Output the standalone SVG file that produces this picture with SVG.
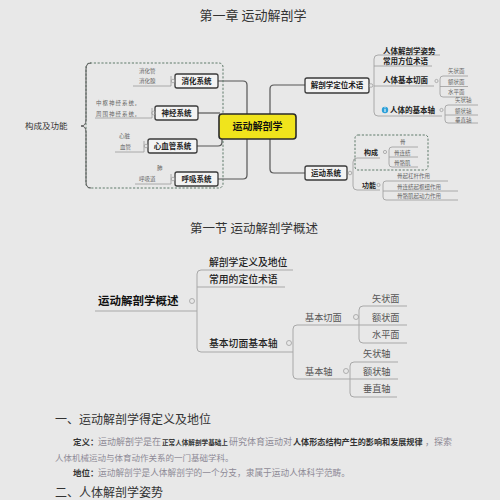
<svg xmlns="http://www.w3.org/2000/svg" width="500" height="500" viewBox="0 0 500 500">
<style>
text{font-family:"Noto Sans CJK SC","Noto Sans",sans-serif;}
.t1{font-size:13px;fill:#333;text-anchor:middle;}
.box{fill:#f3f3f3;stroke:#3a3a3a;stroke-width:1.3;}
.bt{font-size:7.5px;font-weight:bold;fill:#222;text-anchor:middle;}
.sm{font-size:5.5px;fill:#666;}
.m7{font-size:7.5px;font-weight:bold;fill:#222;}
.con{fill:none;stroke:#555;stroke-width:1.2;}
.ul{fill:none;stroke:#9a9a9a;stroke-width:0.8;}
.ul2{fill:none;stroke:#a8a8a8;stroke-width:1;}
.tog{fill:none;stroke:#a0a0a0;stroke-width:0.8;}
.dash{fill:none;stroke:#5f7a6a;stroke-width:1;stroke-dasharray:2.2 1.6;}
.b1{font-size:9.8px;fill:#222;font-weight:500;}
.g9{font-size:9.2px;fill:#555;}
.h{font-size:12px;fill:#333;}
.gr{fill:#8e8a96;}
.bd{fill:#333;font-weight:bold;}
</style>
<rect x="0" y="0" width="500" height="500" fill="#e8e8e8"/>
<text class="t1" x="253" y="20">第一章 运动解剖学</text>

<!-- connectors -->
<g id="connectors">
<path class="con" d="M218,81 H243 Q247,81 247,85 V114"/>
<path class="con" d="M198,113 H220"/>
<path class="con" d="M197,146 H218 Q222,146 222,142 V139"/>
<path class="con" d="M218,179 H243 Q247,179 247,175 V139"/>
<path class="con" d="M270,114 V89 Q270,85 274,85 H305"/>
<path class="con" d="M270,139 V169 Q270,173 274,173 H305"/>
<!-- left children -->
<path class="ul" d="M133,86 H171 V76"/>
<path class="ul" d="M95,118 H152 V108"/>
<path class="ul" d="M115,152 H144 V141"/>
<path class="ul" d="M135,184 H171 V174"/>
<!-- right children -->
<path class="ul" d="M440,55 H378 Q374,55 374,59 V112 Q374,116 378,116 H442"/>
<path class="ul" d="M374,66 H432"/>
<path class="ul" d="M374,86 H434"/>
<path class="ul" d="M468,76 H443 Q440,76 440,79 V94 Q440,97 443,97 H468"/>
<path class="ul" d="M440,86.5 H468"/>
<path class="ul" d="M478,105 H448 Q445,105 445,108 V120 Q445,123 448,123 H478"/>
<path class="ul" d="M445,115 H478"/>
<path class="ul" d="M380,158 H357 Q353,158 353,162 V186 Q353,190 357,190 H380"/>
<path class="ul" d="M418,147 H392 Q389,147 389,150 V164 Q389,167 392,167 H418"/>
<path class="ul" d="M389,157 H418"/>
<path class="ul" d="M448,181 H386 Q383,181 383,184 V197 Q383,200 386,200 H458"/>
<path class="ul" d="M383,191 H458"/>
<!-- lower map -->
<path class="ul2" d="M95,311 H197"/>
<path class="ul2" d="M293,270 H201 Q197,270 197,274 V348 Q197,352 201,352 H293"/>
<path class="ul2" d="M197,287 H285"/>
<path class="ul2" d="M352,325 H297 Q293,325 293,329 V375 Q293,379 297,379 H350"/>
<path class="ul2" d="M407,306 H363 Q359,306 359,310 V339 Q359,343 363,343 H407"/>
<path class="ul2" d="M352,325 H407"/>
<path class="ul2" d="M398,362 H354 Q350,362 350,366 V393 Q350,397 354,397 H397"/>
<path class="ul2" d="M350,379 H398"/>
</g>

<!-- top map nodes -->
<g id="group-left">
<rect class="dash" x="86" y="63" width="137" height="125" rx="4"/>
<path fill="none" stroke="#555" stroke-width="1" d="M91,63 Q86,63 86,69 V120 Q86,126 81,126 Q86,126 86,132 V182 Q86,188 91,188"/>
<text x="25" y="129" style="font-size:8.5px;fill:#333;">构成及功能</text>
</g>
<g id="center">
<rect x="219" y="114" width="77" height="25" rx="3" fill="#f0e41c" stroke="#2a2a2a" stroke-width="1.6"/>
<text x="257.5" y="130.3" text-anchor="middle" style="font-size:10px;font-weight:bold;fill:#111;">运动解剖学</text>
</g>
<g id="n-xiaohua">
<rect class="box" x="175" y="74" width="43" height="14" rx="2"/>
<text class="bt" x="196.5" y="83.9">消化系统</text>
<circle class="tog" cx="173" cy="81" r="1.8"/>
<text class="sm" x="139" y="73">消化管</text>
<text class="sm" x="139" y="83">消化腺</text>
</g>
<g id="n-shenjing">
<rect class="box" x="155" y="106" width="43" height="14" rx="2"/>
<text class="bt" x="176.5" y="115.9">神经系统</text>
<circle class="tog" cx="153.5" cy="113" r="1.8"/>
<text class="sm" x="96" y="105" letter-spacing="1">中枢神经系统,</text>
<text class="sm" x="96" y="116" letter-spacing="1">周围神经系统,</text>
</g>
<g id="n-xinxueguan">
<rect class="box" x="148" y="139" width="49" height="14" rx="2"/>
<text class="bt" x="172.5" y="148.9">心血管系统</text>
<circle class="tog" cx="146" cy="146" r="1.8"/>
<text class="sm" x="119" y="138">心脏</text>
<text class="sm" x="120" y="149">血管</text>
</g>
<g id="n-huxi">
<rect class="box" x="175" y="172" width="43" height="14" rx="2"/>
<text class="bt" x="196.5" y="181.9">呼吸系统</text>
<circle class="tog" cx="173" cy="179" r="1.8"/>
<text class="sm" x="157" y="170">肺</text>
<text class="sm" x="139" y="181">呼吸道</text>
</g>
<g id="n-dingwei">
<rect class="box" x="305" y="78" width="64" height="15" rx="2"/>
<text class="bt" x="337" y="88.4">解剖学定位术语</text>
<circle class="tog" cx="371" cy="85.5" r="1.8"/>
<text class="m7" x="383" y="53.8">人体解剖学姿势</text>
<text class="m7" x="383" y="64">常用方位术语</text>
<text class="m7" x="383" y="83">人体基本切面</text>
<circle class="tog" cx="436.5" cy="81" r="1.6"/>
<text class="sm" x="448" y="73">矢状面</text>
<text class="sm" x="448" y="84">额状面</text>
<text class="sm" x="448" y="94">水平面</text>
<circle cx="385" cy="110" r="3.2" fill="#2b9fd8"/>
<rect x="384.5" y="109" width="1" height="3" fill="#fff"/>
<rect x="384.5" y="107.3" width="1" height="1" fill="#fff"/>
<text class="m7" x="390" y="112.8">人体的基本轴</text>
<circle class="tog" cx="441.5" cy="110" r="1.6"/>
<text class="sm" x="455" y="102">矢状轴</text>
<text class="sm" x="455" y="113">额状轴</text>
<text class="sm" x="455" y="121.5">垂直轴</text>
</g>
<g id="n-yundong">
<rect class="box" x="305" y="166" width="42" height="14" rx="2"/>
<text class="bt" x="326" y="175.9">运动系统</text>
<circle class="tog" cx="350" cy="173" r="1.8"/>
<rect class="dash" x="355" y="135" width="73" height="35" rx="3"/>
<text x="364" y="154.7" style="font-size:7px;font-weight:bold;fill:#222;">构成</text>
<circle class="tog" cx="385" cy="152" r="1.6"/>
<text class="sm" x="400" y="144">骨</text>
<text class="sm" x="394" y="154.5">骨连结</text>
<text class="sm" x="394" y="164.5">骨骼肌</text>
<text x="362" y="187.7" style="font-size:7px;font-weight:bold;fill:#222;">功能</text>
<circle class="tog" cx="378.5" cy="185" r="1.6"/>
<text class="sm" x="397" y="178">骨起杠杆作用</text>
<text class="sm" x="397" y="189">骨连结起枢纽作用</text>
<text class="sm" x="397" y="198">骨骼肌起动力作用</text>
</g>

<!-- lower map -->
<text class="t1" x="254" y="232.8" style="font-size:12.5px;">第一节 运动解剖学概述</text>
<g id="n-gaishu">
<text x="98" y="304.9" style="font-size:11.5px;font-weight:bold;fill:#111;">运动解剖学概述</text>
<circle class="tog" cx="192" cy="301" r="2.5"/>
</g>
<g id="n-dingyi"><text class="b1" x="209" y="265.7">解剖学定义及地位</text></g>
<g id="n-shuyu"><text class="b1" x="209" y="282.7">常用的定位术语</text></g>
<g id="n-qiemianzhou">
<text class="b1" x="209" y="346.7">基本切面基本轴</text>
<circle class="tog" cx="289" cy="343" r="2.5"/>
</g>
<g id="n-qiemian">
<text class="g9" x="305" y="320.5">基本切面</text>
<circle class="tog" cx="356" cy="317" r="2.5"/>
<text class="g9" x="372" y="301.5">矢状面</text>
<text class="g9" x="372" y="320.5">额状面</text>
<text class="g9" x="372" y="337.5">水平面</text>
</g>
<g id="n-zhou">
<text class="g9" x="305" y="374.5">基本轴</text>
<circle class="tog" cx="346" cy="371" r="2.5"/>
<text class="g9" x="363" y="356.5">矢状轴</text>
<text class="g9" x="363" y="374.5">额状轴</text>
<text class="g9" x="363" y="391.5">垂直轴</text>
</g>

<!-- text section -->
<text class="h" x="55" y="423.5">一、运动解剖学得定义及地位</text>
<text x="73" y="445" class="bd" style="font-size:8.5px;">定义：</text>
<text x="98" y="445" class="gr" style="font-size:9px;">运动解剖学是在</text>
<text x="162" y="445" class="bd" style="font-size:6.6px;">正常人体解剖学基础上</text>
<text x="229" y="445" class="gr" style="font-size:9px;">研究体育运动对</text>
<text x="293" y="445" class="bd" style="font-size:8.1px;">人体形态结构产生的影响和发展规律</text>
<text x="425" y="445" class="gr" style="font-size:9px;">，探索</text>
<text x="55" y="460.5" class="gr" style="font-size:8.5px;">人体机械运动与体育动作关系的一门基础学科。</text>
<text x="73" y="476" class="bd" style="font-size:8.5px;">地位：</text>
<text x="98" y="476" class="gr" style="font-size:8.7px;">运动解剖学是人体解剖学的一个分支，隶属于运动人体科学范畴。</text>
<text class="h" x="55" y="497">二、人体解剖学姿势</text>
</svg>
